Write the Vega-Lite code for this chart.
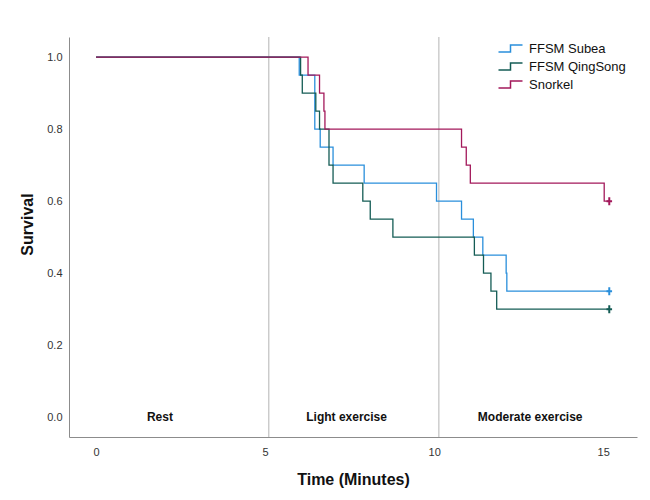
{
  "$schema": "https://vega.github.io/schema/vega-lite/v6.json",
  "width": 568,
  "height": 400,
  "autosize": {"type": "none"},
  "padding": {"left": 69, "top": 37, "right": 13, "bottom": 63},
  "config": {
    "view": {"stroke": null},
    "font": "Liberation Sans"
  },
  "datasets": {
    "km": [
      {"group": "FFSM Subea", "time": 0, "survival": 1.0},
      {"group": "FFSM Subea", "time": 6.01, "survival": 0.95},
      {"group": "FFSM Subea", "time": 6.47, "survival": 0.80},
      {"group": "FFSM Subea", "time": 6.63, "survival": 0.75},
      {"group": "FFSM Subea", "time": 7.01, "survival": 0.70},
      {"group": "FFSM Subea", "time": 7.93, "survival": 0.65},
      {"group": "FFSM Subea", "time": 10.07, "survival": 0.60},
      {"group": "FFSM Subea", "time": 10.81, "survival": 0.55},
      {"group": "FFSM Subea", "time": 11.16, "survival": 0.50},
      {"group": "FFSM Subea", "time": 11.44, "survival": 0.45},
      {"group": "FFSM Subea", "time": 12.13, "survival": 0.40},
      {"group": "FFSM Subea", "time": 12.15, "survival": 0.35},
      {"group": "FFSM Subea", "time": 15.18, "survival": 0.35},
      {"group": "FFSM QingSong", "time": 0, "survival": 1.0},
      {"group": "FFSM QingSong", "time": 6.05, "survival": 0.95},
      {"group": "FFSM QingSong", "time": 6.10, "survival": 0.90},
      {"group": "FFSM QingSong", "time": 6.50, "survival": 0.85},
      {"group": "FFSM QingSong", "time": 6.61, "survival": 0.80},
      {"group": "FFSM QingSong", "time": 6.89, "survival": 0.70},
      {"group": "FFSM QingSong", "time": 7.01, "survival": 0.65},
      {"group": "FFSM QingSong", "time": 7.89, "survival": 0.60},
      {"group": "FFSM QingSong", "time": 8.11, "survival": 0.55},
      {"group": "FFSM QingSong", "time": 8.78, "survival": 0.50},
      {"group": "FFSM QingSong", "time": 11.19, "survival": 0.45},
      {"group": "FFSM QingSong", "time": 11.46, "survival": 0.40},
      {"group": "FFSM QingSong", "time": 11.68, "survival": 0.35},
      {"group": "FFSM QingSong", "time": 11.85, "survival": 0.30},
      {"group": "FFSM QingSong", "time": 15.18, "survival": 0.30},
      {"group": "Snorkel", "time": 0, "survival": 1.0},
      {"group": "Snorkel", "time": 6.27, "survival": 0.95},
      {"group": "Snorkel", "time": 6.61, "survival": 0.90},
      {"group": "Snorkel", "time": 6.74, "survival": 0.85},
      {"group": "Snorkel", "time": 6.77, "survival": 0.80},
      {"group": "Snorkel", "time": 10.81, "survival": 0.75},
      {"group": "Snorkel", "time": 10.95, "survival": 0.70},
      {"group": "Snorkel", "time": 11.07, "survival": 0.65},
      {"group": "Snorkel", "time": 15.03, "survival": 0.60},
      {"group": "Snorkel", "time": 15.18, "survival": 0.60}
    ],
    "censored": [
      {"group": "FFSM Subea", "time": 15.18, "survival": 0.35},
      {"group": "FFSM QingSong", "time": 15.18, "survival": 0.30},
      {"group": "Snorkel", "time": 15.18, "survival": 0.60}
    ],
    "phases": [
      {"boundary": 5.11},
      {"boundary": 10.14}
    ],
    "phaseLabels": [
      {"label": "Rest", "time": 1.89, "survival": 0.0},
      {"label": "Light exercise", "time": 7.41, "survival": 0.0},
      {"label": "Moderate exercise", "time": 12.84, "survival": 0.0}
    ]
  },
  "layer": [
    {
      "data": {"name": "phases"},
      "mark": {"type": "rule", "color": "#b4b4b4", "strokeWidth": 1},
      "encoding": {
        "x": {"field": "boundary", "type": "quantitative", "scale": {"domain": [-0.8, 16.0], "nice": false, "zero": false}}
      }
    },
    {
      "data": {"name": "phaseLabels"},
      "mark": {"type": "text", "fontSize": 12, "fontWeight": "bold", "color": "#111", "baseline": "middle", "align": "center"},
      "encoding": {
        "x": {"field": "time", "type": "quantitative"},
        "y": {"field": "survival", "type": "quantitative"},
        "text": {"field": "label"}
      }
    },
    {
      "data": {"name": "km"},
      "mark": {"type": "line", "interpolate": "step-after", "strokeWidth": 1.3},
      "encoding": {
        "x": {
          "field": "time",
          "type": "quantitative",
          "scale": {"domain": [-0.8, 16.0], "nice": false, "zero": false},
          "axis": {
            "title": "Time (Minutes)",
            "values": [0, 5, 10, 15],
            "ticks": false,
            "grid": false,
            "domainColor": "#8c8c8c",
            "labelFontSize": 11,
            "labelColor": "#333",
            "labelPadding": 9,
            "titleFontSize": 16,
            "titleFontWeight": "bold",
            "titleColor": "#111",
            "titlePadding": 14
          }
        },
        "y": {
          "field": "survival",
          "type": "quantitative",
          "scale": {"domain": [-0.055, 1.056], "nice": false, "zero": false},
          "axis": {
            "title": "Survival",
            "values": [0, 0.2, 0.4, 0.6, 0.8, 1.0],
            "format": ".1f",
            "ticks": false,
            "grid": false,
            "domainColor": "#8c8c8c",
            "labelFontSize": 11,
            "labelColor": "#333",
            "labelPadding": 7,
            "titleFontSize": 16,
            "titleFontWeight": "bold",
            "titleColor": "#111",
            "titlePadding": 11,
            "titleY": 187
          }
        },
        "color": {
          "field": "group",
          "type": "nominal",
          "scale": {
            "domain": ["FFSM Subea", "FFSM QingSong", "Snorkel"],
            "range": ["#2a8fdb", "#145c55", "#a3195b"]
          },
          "legend": {
            "title": null,
            "orient": "none",
            "legendX": 435,
            "legendY": 5,
            "symbolType": "M-2.4,0.7L0,0.7L0,-0.7L2.4,-0.7",
            "symbolSize": 100,
            "symbolStrokeWidth": 1.5,
            "symbolFillColor": "transparent",
            "labelOffset": 12,
            "labelFontSize": 13,
            "labelColor": "#111",
            "rowPadding": 4
          }
        }
      }
    },
    {
      "data": {"name": "censored"},
      "mark": {
        "type": "point",
        "shape": "M-0.7,0L0.7,0M0,-1L0,1",
        "size": 64,
        "filled": false,
        "strokeWidth": 2,
        "opacity": 1
      },
      "encoding": {
        "x": {"field": "time", "type": "quantitative"},
        "y": {"field": "survival", "type": "quantitative"},
        "color": {"field": "group", "type": "nominal", "legend": null}
      }
    }
  ]
}
